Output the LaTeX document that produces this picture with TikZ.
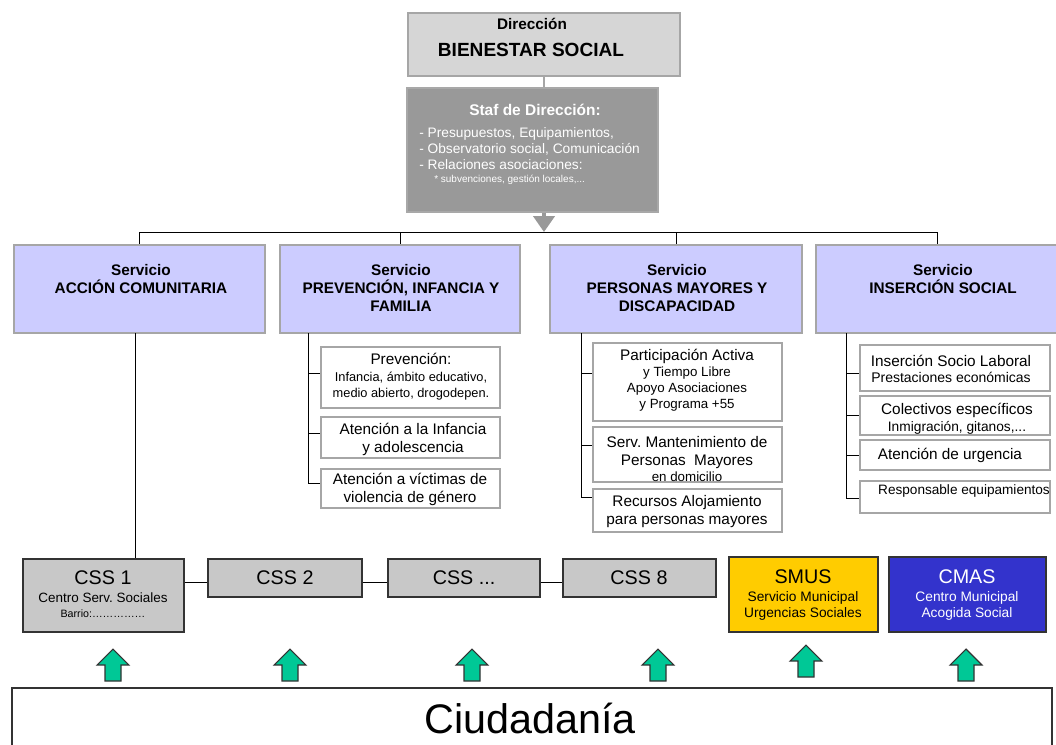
\documentclass[tikz,border=0pt]{standalone}
\usepackage{fontspec}
\setmainfont{Liberation Sans}
\usetikzlibrary{fit,arrows.meta}
\definecolor{dirfill}{HTML}{D6D6D6}
\definecolor{boxborder}{HTML}{A6A6A6}
\definecolor{staffill}{HTML}{999999}
\definecolor{svcfill}{HTML}{CCCCFF}
\definecolor{cssfill}{HTML}{C8C8C8}
\definecolor{darkborder}{HTML}{333333}
\definecolor{smusfill}{HTML}{FFCC00}
\definecolor{cmasfill}{HTML}{3333CC}
\definecolor{arrowgreen}{HTML}{00C896}
\newcommand\fs[2]{\fontsize{#1}{#2}\selectfont}
\frenchspacing
\begin{document}
\begin{tikzpicture}[x=0.75pt,y=-0.75pt,
  dirbox/.style={draw=boxborder,fill=dirfill,line width=1.5pt,inner sep=0pt},
  stafbox/.style={fill=staffill,draw=staffill!85,line width=0.8pt,inner sep=0pt},
  svcbox/.style={draw=boxborder,fill=svcfill,line width=1.5pt,inner sep=0pt},
  subbox/.style={draw=boxborder,fill=white,line width=1.5pt,inner sep=0pt},
  cssbox/.style={draw=darkborder,fill=cssfill,line width=1.2pt,inner sep=0pt},
  boxtext/.style={align=center,inner sep=0pt,font=\fs{10}{12.5}},
  bigtext/.style={align=center,inner sep=0pt,font=\fs{11.5}{13.5}},
  conn/.style={draw=black,line width=0.75pt},
  svctext/.style={anchor=north,inner sep=0pt,align=center,font=\bfseries\fs{11.5}{13.5}},
  greenarrow/.pic={\draw[fill=arrowgreen,draw=darkborder,line width=0.8pt]
     (0,0) -- (16,16) -- (8,16) -- (8,32) -- (-8,32) -- (-8,16) -- (-16,16) -- cycle;}
]
\useasboundingbox (0,0) rectangle (1056,744);

% Direction
\node[fit={(408,13)(680,76)},dirbox] (dir) {};
\node[font=\bfseries\fs{11.5}{13}] (dirt1) at (532,24) {Dirección};
\node[font=\bfseries\fs{14.3}{17}] (dirt2) at (531,50) {BIENESTAR SOCIAL};

% Staff
\node[fit={(407,88)(658,212)},stafbox] (staf) {};
\draw[draw=boxborder,line width=1.5pt] (dir.south) -- (dir.south |- staf.north);
\node[font=\bfseries\fs{11.6}{14},text=white] (staft) at (535,110) {Staf de Dirección:};
\node[anchor=west,inner sep=0pt,text=white,align=left,font=\fs{10.3}{12}] (stafl) at (419,149)
  {- Presupuestos, Equipamientos,\\- Observatorio social, Comunicación\\- Relaciones asociaciones:};
\node[anchor=west,inner sep=0pt,text=white,font=\fs{7.5}{9}] (stafs) at (434,180) {* subvenciones, gestión locales,...};

\coordinate (bus) at (544,232);
\draw[draw=staffill,line width=2.5pt,-{Triangle[width=16pt,length=12pt]}] (staf.south -| bus) -- (bus);

% Services
\node[fit={(14,245)(265,333)},svcbox] (svc1) {};
\node[fit={(280,245)(520,333)},svcbox] (svc2) {};
\node[fit={(550,245)(802,333)},svcbox] (svc3) {};
\node[fit={(816,245)(1058,333)},svcbox] (svc4) {};
\node[svctext] (svc1t) at (141,264) {Servicio\\ACCIÓN COMUNITARIA};
\node[svctext] (svc2t) at (401,264) {Servicio\\PREVENCIÓN, INFANCIA Y\\FAMILIA};
\node[svctext] (svc3t) at (677,264) {Servicio\\PERSONAS MAYORES Y\\DISCAPACIDAD};
\node[svctext] (svc4t) at (943,264) {Servicio\\INSERCIÓN SOCIAL};

\draw[conn] (svc1.north |- bus) -- (svc4.north |- bus);
\foreach \s in {svc1,svc2,svc3,svc4} {\draw[conn] (\s.north |- bus) -- (\s.north);}

% Column 2 sub-items
\node[fit={(321,347)(500,408)},subbox] (p1) {};
\node[fit={(321,417)(500,458)},subbox] (p2) {};
\node[fit={(321,469)(500,508)},subbox] (p3) {};
\node[boxtext,font=\fs{9.6}{12.5}] (p1t) at (411,377) {{\fs{11.5}{13}Prevención:}\\Infancia, ámbito educativo,\\medio abierto, drogodepen.};
\node[bigtext] (p2t) at (413,439) {Atención a la Infancia\\y adolescencia};
\node[bigtext] (p3t) at (410,489) {Atención a víctimas de\\violencia de género};
\coordinate (v2) at (308,333);
\draw[conn] (v2) |- ([yshift=3pt]p1.west) (v2) |- ([yshift=3pt]p2.west) (v2) |- ([yshift=4pt]p3.west);

% Column 3 sub-items
\node[fit={(593,343)(782,421)},subbox] (m1) {};
\node[fit={(593,427)(782,482)},subbox] (m2) {};
\node[fit={(593,489)(782,532)},subbox] (m3) {};
\node[boxtext,font=\fs{10}{12}] (m1t) at (687,380) {{\fs{11.5}{13}Participación Activa}\\y Tiempo Libre\\Apoyo Asociaciones\\y Programa +55};
\node[boxtext,font=\fs{10}{13.5}] (m2t) at (687,459) {{\fs{11.5}{13}Serv. Mantenimiento de}\\{\fs{11.5}{13}Personas\ \ Mayores}\\[-2pt]en domicilio};
\node[bigtext] (m3t) at (687,512) {Recursos Alojamiento\\para personas mayores};
\coordinate (v3) at (581,333);
\draw[conn] (v3) |- ([yshift=6.5pt]m1.west) (v3) |- ([yshift=6.5pt]m2.west) (v3) |- ([yshift=10pt]m3.west);

% Column 4 sub-items
\node[fit={(860,345)(1050,391)},subbox] (i1) {};
\node[fit={(860,396)(1050,435)},subbox] (i2) {};
\node[fit={(860,440)(1050,470)},subbox] (i3) {};
\node[fit={(860,481)(1050,513)},subbox] (i4) {};
\node[boxtext,font=\fs{10.5}{12.5}] (i1t) at (951,369) {{\fs{11.5}{13}Inserción Socio Laboral}\\Prestaciones económicas};
\node[boxtext,font=\fs{10.3}{12.5}] (i2t) at (957,419) {{\fs{11.5}{13}Colectivos específicos}\\Inmigración, gitanos,...};
\node[bigtext] (i3t) at (950,455) {Atención de urgencia};
\node[boxtext,font=\fs{10.2}{12}] (i4t) at (964,491) {Responsable equipamientos};
\coordinate (v4) at (846,333);
\draw[conn] (v4) |- ([yshift=-4pt]i1.west) (v4) |- (i2.west) (v4) |- (i3.west) (v4) |- ([yshift=-1pt]i4.west);

% Bottom row
\node[fit={(23,559)(184,632)},cssbox] (css1) {};
\node[fit={(208,559)(362,597)},cssbox] (css2) {};
\node[fit={(388,559)(540,597)},cssbox] (css3) {};
\node[fit={(563,559)(716,597)},cssbox] (css4) {};
\node[fit={(729,557)(878,632)},cssbox,fill=smusfill] (smus) {};
\node[fit={(889,557)(1046,632)},cssbox,fill=cmasfill] (cmas) {};
\node[boxtext,font=\fs{10.1}{13}] (css1t) at (103,594) {{\fs{14.8}{16}CSS 1}\\[1pt]Centro Serv. Sociales\\[-2pt]{\fs{8}{9}Barrio:……………}};
\node[boxtext,font=\fs{14.8}{16}] (css2t) at (285,578) {CSS 2};
\node[boxtext,font=\fs{14.8}{16}] (css3t) at (464,578) {CSS ...};
\node[boxtext,font=\fs{14.8}{16}] (css4t) at (639,578) {CSS 8};
\node[boxtext,font=\fs{10.3}{12}] (smust) at (803,595) {{\fs{14.8}{16}SMUS}\\[1pt]Servicio Municipal\\Urgencias Sociales};
\node[boxtext,font=\fs{10.3}{12},text=white] (cmast) at (967,595) {{\fs{14.8}{16}CMAS}\\[1pt]Centro Municipal\\Acogida Social};

\coordinate (d1) at (135,333);
\draw[conn] (d1) -- (d1 |- css1.north);
\draw[conn] ([yshift=-3pt]css2.west) -- ([yshift=-3pt]css2.west -| css1.east);
\draw[conn] ([yshift=-3pt]css2.east) -- ([yshift=-3pt]css2.east -| css3.west);
\draw[conn] ([yshift=-3pt]css3.east) -- ([yshift=-3pt]css3.east -| css4.west);

% Green arrows
\foreach \x/\y in {113/649,290/649,472/649,658/649,806/645,966/649} {\pic at (\x,\y) {greenarrow};}

% Ciudadania
\node[fit={(12,688)(1052,770)},draw=darkborder,line width=0.8pt,inner sep=0pt] (ciud) {};
\node[font=\fs{31}{36}] (ciudt) at (530,718) {Ciudadanía};
\end{tikzpicture}
\end{document}
